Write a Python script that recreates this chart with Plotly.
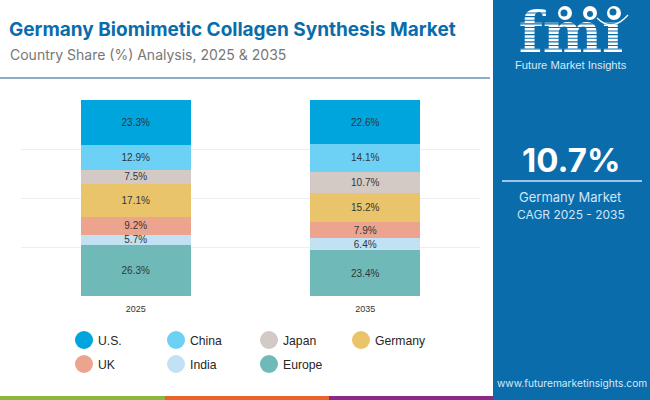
# Germany Biomimetic Collagen Synthesis Market - stacked share chart with side panel
import plotly.graph_objects as go

W = 650
H = 400

years = ["2025", "2035"]
countries = ["U.S.", "China", "Japan", "Germany", "UK", "India", "Europe"]
colors = ["#00a5de", "#6dd0f5", "#d3cac6", "#eac46a", "#eca48f", "#c2e2f3", "#6fbab8"]
share_2025 = [23.3, 12.9, 7.5, 17.1, 9.2, 5.7, 26.3]
share_2035 = [22.6, 14.1, 10.7, 15.2, 7.9, 6.4, 23.4]

BLUE = "#0b6cab"


def px(x):
    return x / W


def py(y):
    return 1 - y / H


fig = go.Figure()

# stack from the bottom up, so Europe goes first
for i in reversed(range(len(countries))):
    vals = [share_2025[i], share_2035[i]]
    fig.add_bar(x=years, y=vals, name=countries[i], marker=dict(color=colors[i], line_width=0),
                width=0.48, text=[f"{v}%" for v in vals], textposition="inside",
                insidetextanchor="middle", textangle=0, constraintext="none",
                textfont=dict(family="Liberation Sans", size=10, color="#30363b"),
                showlegend=False, hoverinfo="skip")

# logo lettering sits on a full-page second axis so the stripes can go over it
fig.add_trace(go.Scatter(x=[571], y=[38], mode="text", text=["fmı"], xaxis="x2", yaxis="y2",
                         textposition="middle center", showlegend=False, hoverinfo="skip",
                         textfont=dict(family="DejaVu Serif", size=56, color="white", weight="bold")))

shapes = []


def rect(x0, y0, x1, y1, color, layer="below"):
    shapes.append(dict(type="rect", xref="paper", yref="paper", x0=px(x0), x1=px(x1),
                       y0=py(y0), y1=py(y1), fillcolor=color, line_width=0, layer=layer))


def circle(cx, cy, r, color, layer="above"):
    shapes.append(dict(type="circle", xref="paper", yref="paper", x0=px(cx - r), x1=px(cx + r),
                       y0=py(cy - r), y1=py(cy + r), fillcolor=color, line_width=0, layer=layer))


# page furniture
rect(493, 0, 650, 400, BLUE)
rect(0, 77, 490, 79, "#8aafc6")
rect(0, 396, 165, 400, "#8cb63f")
rect(165, 396, 329, 400, "#e8622c")
rect(329, 396, 493, 400, "#8b2a86")
rect(502, 180, 642, 182, "#9cc6e6")

# logo stripes and globes
y = 12.5
while y < 58:
    rect(510, y, 632, y + 1.1, BLUE, layer="above")
    y += 3.6
for cx in [565, 590, 614]:
    circle(cx, 13, 7, "white")
circle(564, 13, 3.5, BLUE)
circle(590, 14, 3, BLUE)
circle(613, 12, 3.5, BLUE)
shapes.append(dict(type="path", xref="paper", yref="paper",
                   path=f"M {px(597)} {py(18)} Q {px(612)} {py(33)} {px(628)} {py(15)}",
                   line=dict(color="white", width=1.2), layer="above"))

annotations = []


def label(x, y, text, size, color, family="Inter", anchor="left", weight=None):
    annotations.append(dict(xref="paper", yref="paper", x=px(x), y=py(y), text=text, showarrow=False,
                            xanchor=anchor, yanchor="middle", align=anchor,
                            font=dict(family=family, size=size, color=color, weight=weight)))


label(7, 30, "Germany Biomimetic Collagen Synthesis Market", 19, "#0b6cab", weight="bold")
label(8, 54, "Country Share (%) Analysis, 2025 &amp; 2035", 14, "#777777")
label(571, 65, "Future Market Insights", 11.2, "#d5e9f8", family="Liberation Sans", anchor="center")
label(571, 160, "10.7%", 33, "white", anchor="center", weight="bold")
label(570, 197, "Germany Market", 13, "#cfe6f8", anchor="center")
label(571, 214, "CAGR 2025 - 2035", 12, "#cfe6f8", anchor="center")
label(572, 383, "www.futuremarketinsights.com", 10.2, "#d5e9f8", anchor="center")

# legend drawn by hand for the round swatches
legend_x = [84, 176, 269, 361]
legend_y = [340, 364]
for i, name in enumerate(countries):
    cx = legend_x[i % 4]
    cy = legend_y[i // 4]
    circle(cx, cy, 9, colors[i])
    label(cx + 12, cy + 1, name, 12.2, "#262626", family="Liberation Sans")

fig.update_layout(
    width=W, height=H, margin=dict(l=0, r=0, t=0, b=0),
    barmode="stack", barnorm="percent",
    paper_bgcolor="white", plot_bgcolor="rgba(0,0,0,0)",
    shapes=shapes, annotations=annotations,
    xaxis=dict(domain=[px(21), px(480)], type="category", showgrid=False, showline=False,
               ticks="", ticklabelstandoff=6,
               tickfont=dict(family="Liberation Sans", size=9, color="#333333")),
    yaxis=dict(domain=[py(296), py(100)], range=[0, 100], tickvals=[0, 25, 50, 75, 100],
               showticklabels=False, gridcolor="#eeeeee", gridwidth=1, zeroline=False),
    xaxis2=dict(domain=[0, 1], range=[0, W], visible=False, anchor="y2"),
    yaxis2=dict(domain=[0, 1], range=[H, 0], visible=False, anchor="x2"),
)

# the page's default body margin would push the figure out of the window
fig.write_html("out.html", config=dict(displayModeBar=False),
               post_script="document.body.style.margin = '0'; document.body.style.overflow = 'hidden';")
